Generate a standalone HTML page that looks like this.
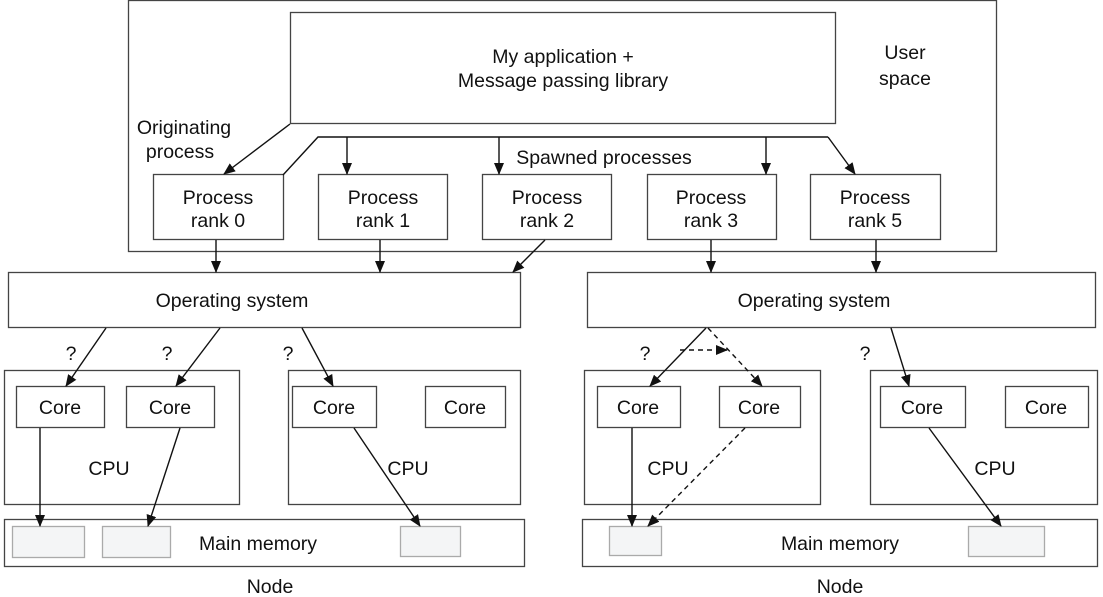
<!DOCTYPE html>
<html><head><meta charset="utf-8"><style>
html,body{margin:0;padding:0;background:#fff;}
svg{display:block;font-family:"Liberation Sans",Arial,sans-serif;}
text{font-size:19.5px;fill:#111;text-anchor:middle;}
</style></head><body>
<svg width="1103" height="597" viewBox="0 0 1103 597" xmlns="http://www.w3.org/2000/svg">
<defs>
<marker id="a" markerWidth="12" markerHeight="10" refX="11" refY="5" orient="auto" markerUnits="userSpaceOnUse">
<path d="M0,0 L12,5 L0,10 z" fill="#111"/></marker>
</defs>
<g fill="none" stroke="#444" stroke-width="1.3">
<rect x="128.5" y="0.5" width="868" height="251"/>
<rect x="290.5" y="12.5" width="545" height="111"/>
<rect x="153.5" y="174.5" width="130" height="65"/>
<rect x="318.5" y="174.5" width="129" height="65"/>
<rect x="482.5" y="174.5" width="129" height="65"/>
<rect x="647.5" y="174.5" width="129" height="65"/>
<rect x="810.5" y="174.5" width="130" height="65"/>
<rect x="8.5" y="272.5" width="512" height="55"/>
<rect x="587.5" y="272.5" width="508" height="55"/>
<rect x="4.5" y="370.5" width="235" height="134"/>
<rect x="288.5" y="370.5" width="232" height="134"/>
<rect x="584.5" y="370.5" width="236" height="134"/>
<rect x="870.5" y="370.5" width="227" height="134"/>
<rect x="16.5" y="386.5" width="88" height="41"/>
<rect x="126.5" y="386.5" width="88" height="41"/>
<rect x="292.5" y="386.5" width="84" height="41"/>
<rect x="425.5" y="386.5" width="80" height="41"/>
<rect x="597.5" y="386.5" width="83" height="41"/>
<rect x="719.5" y="386.5" width="81" height="41"/>
<rect x="880.5" y="386.5" width="85" height="41"/>
<rect x="1005.5" y="386.5" width="83" height="41"/>
<rect x="4.5" y="519.5" width="520" height="47"/>
<rect x="582.5" y="519.5" width="515" height="47"/>
</g>
<g fill="#f4f5f6" stroke="#aaa" stroke-width="1.3">
<rect x="12.5" y="526.5" width="72" height="31"/>
<rect x="102.5" y="526.5" width="68" height="31"/>
<rect x="400.5" y="526.5" width="60" height="30"/>
<rect x="609.5" y="526.5" width="52" height="29"/>
<rect x="968.5" y="526.5" width="76" height="30"/>
</g>
<g fill="none" stroke="#111" stroke-width="1.4">
<line x1="290" y1="124" x2="224" y2="174" marker-end="url(#a)"/>
<polyline points="283,175 318,137 828,137"/>
<line x1="828" y1="137" x2="855" y2="174" marker-end="url(#a)"/>
<line x1="347" y1="137" x2="347" y2="174" marker-end="url(#a)"/>
<line x1="499" y1="137" x2="499" y2="174" marker-end="url(#a)"/>
<line x1="766" y1="137" x2="766" y2="174" marker-end="url(#a)"/>
<line x1="216" y1="240" x2="216" y2="272" marker-end="url(#a)"/>
<line x1="380" y1="240" x2="380" y2="272" marker-end="url(#a)"/>
<line x1="545" y1="240" x2="513" y2="272" marker-end="url(#a)"/>
<line x1="711" y1="240" x2="711" y2="272" marker-end="url(#a)"/>
<line x1="876" y1="240" x2="876" y2="272" marker-end="url(#a)"/>
<line x1="106" y1="328" x2="66" y2="386" marker-end="url(#a)"/>
<line x1="220" y1="328" x2="176" y2="386" marker-end="url(#a)"/>
<line x1="302" y1="328" x2="333" y2="386" marker-end="url(#a)"/>
<line x1="40" y1="428" x2="40" y2="526" marker-end="url(#a)"/>
<line x1="180" y1="428" x2="148" y2="526" marker-end="url(#a)"/>
<line x1="354" y1="428" x2="420" y2="526" marker-end="url(#a)"/>
<line x1="706" y1="328" x2="650" y2="386" marker-end="url(#a)"/>
<line x1="632" y1="428" x2="632" y2="526" marker-end="url(#a)"/>
<line x1="891" y1="328" x2="909" y2="386" marker-end="url(#a)"/>
<line x1="929" y1="428" x2="1001" y2="526" marker-end="url(#a)"/>
</g>
<g fill="none" stroke="#111" stroke-width="1.4" stroke-dasharray="5,4">
<line x1="708" y1="328" x2="762" y2="386" marker-end="url(#a)"/>
<line x1="680" y1="350" x2="727" y2="350" marker-end="url(#a)"/>
<line x1="745" y1="428" x2="648" y2="526" marker-end="url(#a)"/>
</g>
<text x="563" y="63">My application +</text>
<text x="563" y="87">Message passing library</text>
<text x="905" y="59">User</text>
<text x="905" y="85">space</text>
<text x="184" y="134">Originating</text>
<text x="180" y="158">process</text>
<text x="604" y="164">Spawned processes</text>
<g>
<text x="218" y="204">Process</text><text x="218" y="227">rank 0</text>
<text x="383" y="204">Process</text><text x="383" y="227">rank 1</text>
<text x="547" y="204">Process</text><text x="547" y="227">rank 2</text>
<text x="711" y="204">Process</text><text x="711" y="227">rank 3</text>
<text x="875" y="204">Process</text><text x="875" y="227">rank 5</text>
</g>
<text x="232" y="307">Operating system</text>
<text x="814" y="307">Operating system</text>
<text x="71" y="360">?</text>
<text x="167" y="360">?</text>
<text x="288" y="360">?</text>
<text x="645" y="360">?</text>
<text x="865" y="360">?</text>
<text x="60" y="414">Core</text>
<text x="170" y="414">Core</text>
<text x="334" y="414">Core</text>
<text x="465" y="414">Core</text>
<text x="638" y="414">Core</text>
<text x="759" y="414">Core</text>
<text x="922" y="414">Core</text>
<text x="1046" y="414">Core</text>
<text x="109" y="475">CPU</text>
<text x="408" y="475">CPU</text>
<text x="668" y="475">CPU</text>
<text x="995" y="475">CPU</text>
<text x="258" y="550">Main memory</text>
<text x="840" y="550">Main memory</text>
<text x="270" y="593">Node</text>
<text x="840" y="593">Node</text>
</svg>
</body></html>
